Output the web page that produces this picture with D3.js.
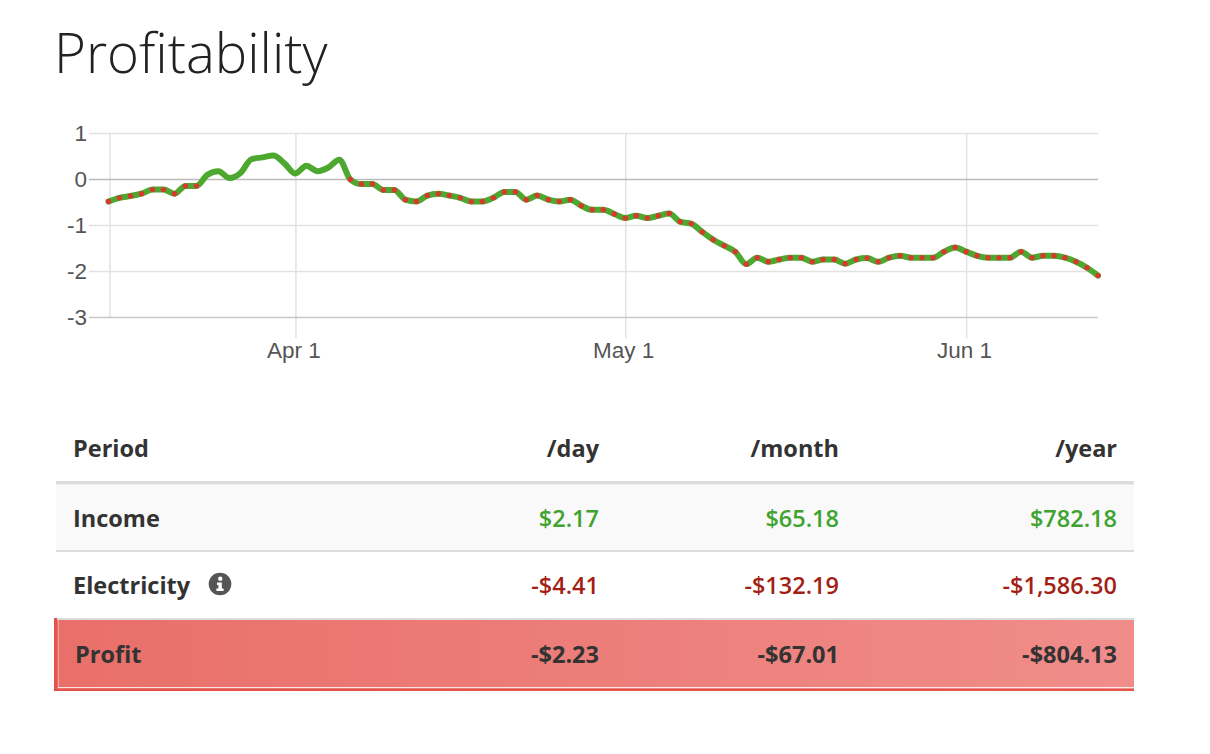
<!DOCTYPE html>
<html>
<head>
<meta charset="utf-8">
<script src="https://cdn.jsdelivr.net/npm/d3@7"></script>
<style>
  body { margin: 0; background: #fff; }
  svg { display: block; }
  .axis text { font-family: "Liberation Sans", Arial, sans-serif; font-size: 22.5px; fill: #555; }
  .axis .domain { display: none; }
</style>
</head>
<body>
<svg id="chart" width="1210" height="754"></svg>
<script>
// daily profit, starting Mar 15
const startDay = "2018-03-15";
const profit = [
  -0.49, -0.41, -0.37, -0.32, -0.23, -0.23, -0.32, -0.15, -0.15,
  0.09, 0.17, 0.02, 0.13, 0.43, 0.47, 0.51, 0.34, 0.12, 0.29, 0.17, 0.25, 0.42,
  -0.01, -0.11, -0.11, -0.24, -0.24, -0.45, -0.49, -0.36, -0.32, -0.36,
  -0.41, -0.49, -0.49, -0.41, -0.28, -0.28, -0.45, -0.36, -0.45, -0.49, -0.45, -0.58, -0.67, -0.67,
  -0.76, -0.85, -0.80, -0.85, -0.80, -0.75, -0.93, -0.97, -1.15, -1.32, -1.45, -1.58, -1.85, -1.71,
  -1.80, -1.75, -1.71, -1.71, -1.80, -1.75, -1.75, -1.84, -1.75,
  -1.72, -1.80, -1.71, -1.67, -1.71, -1.71, -1.71, -1.58, -1.49, -1.58, -1.67, -1.71,
  -1.71, -1.71, -1.58, -1.71, -1.67, -1.67, -1.71, -1.80, -1.93, -2.10
];
const yTicks = [1, 0, -1, -2, -3];
const xTicks = ["2018-04-01", "2018-05-01", "2018-06-01"];

// table
const periods = ["/day", "/month", "/year"];
const rowLabels = ["Income", "Electricity", "Profit"];
const income = ["$2.17", "$65.18", "$782.18"];
const electricity = ["-$4.41", "-$132.19", "-$1,586.30"];
const profitRow = ["-$2.23", "-$67.01", "-$804.13"];

const parse = d3.utcParse("%Y-%m-%d");
const t0 = parse(startDay);
const data = profit.map((v, i) => ({ date: d3.utcDay.offset(t0, i), value: v }));

const svg = d3.select("#chart");

svg.append("text")
  .attr("x", 54)
  .attr("y", 73)
  .attr("font-family", "'Open Sans', sans-serif")
  .attr("font-weight", 300)
  .attr("font-size", 54.5)
  .attr("fill", "#222")
  .text("Profitability");

// plot area
const plotLeft = 108.5, plotRight = 1098, plotTop = 133, plotBottom = 317;

const x = d3.scaleUtc()
  .domain(d3.extent(data, d => d.date))
  .range([plotLeft, plotRight]);

const y = d3.scaleLinear()
  .domain([-3, 1])
  .range([plotBottom, plotTop]);

// vertical grid + month labels
const xAxis = svg.append("g")
  .attr("class", "axis")
  .attr("transform", "translate(0,338)")
  .call(d3.axisBottom(x)
    .tickValues(xTicks.map(parse))
    .tickSize(-(338 - plotTop))
    .tickPadding(4)
    .tickFormat(d3.utcFormat("%b %-d")));

xAxis.selectAll("line")
  .attr("stroke", "#e2e2e2")
  .attr("stroke-width", 1.5);
xAxis.selectAll("text").attr("dx", -2);

// left edge line
svg.append("line")
  .attr("x1", plotLeft + 1.5).attr("x2", plotLeft + 1.5)
  .attr("y1", plotTop).attr("y2", plotBottom)
  .attr("stroke", "#e2e2e2")
  .attr("stroke-width", 1.5);

// horizontal grid + labels
const yAxis = svg.append("g")
  .attr("class", "axis")
  .attr("transform", "translate(89,0)")
  .call(d3.axisLeft(y).tickValues(yTicks).tickSize(-(plotRight - 89)).tickPadding(2).tickFormat(d => String(d)));

yAxis.selectAll("line")
  .attr("stroke", d => d === 0 ? "#bbb" : d === -3 ? "#c8c8c8" : "#e2e2e2")
  .attr("stroke-width", 1.5);

const line = d3.line()
  .x(d => x(d.date))
  .y(d => y(d.value))
  .curve(d3.curveMonotoneX);

svg.append("path")
  .datum(data)
  .attr("d", line)
  .attr("fill", "none")
  .attr("stroke", "#4ca82e")
  .attr("stroke-width", 6)
  .attr("stroke-linejoin", "round")
  .attr("stroke-linecap", "round");

svg.append("g")
  .selectAll("circle")
  .data(data.filter(d => d.value < 0))
  .join("circle")
  .attr("cx", d => x(d.date))
  .attr("cy", d => y(d.value))
  .attr("r", 2.7)
  .attr("fill", "#d8392f");

// ---- table ----
const tLeft = 56, tRight = 1134;
const colRight = [599, 839, 1117];
const font = "'Open Sans', sans-serif";

const defs = svg.append("defs");
const grad = defs.append("linearGradient").attr("id", "profitBg");
grad.append("stop").attr("offset", "0%").attr("stop-color", "#e96f6a");
grad.append("stop").attr("offset", "100%").attr("stop-color", "#f08d8a");

// row backgrounds and borders
svg.append("rect").attr("x", tLeft).attr("y", 484.5).attr("width", tRight - tLeft).attr("height", 65.5).attr("fill", "#f9f9f9");
svg.append("rect").attr("x", tLeft).attr("y", 481).attr("width", tRight - tLeft).attr("height", 3.5).attr("fill", "#dcdcdc");
svg.append("rect").attr("x", tLeft).attr("y", 550).attr("width", tRight - tLeft).attr("height", 2).attr("fill", "#dcdcdc");
svg.append("rect").attr("x", tLeft).attr("y", 618).attr("width", tRight - tLeft).attr("height", 2).attr("fill", "#dcdcdc");
svg.append("rect").attr("x", 57).attr("y", 620).attr("width", tRight - 57).attr("height", 69).attr("fill", "url(#profitBg)");
svg.append("rect").attr("x", 54).attr("y", 618).attr("width", 3).attr("height", 73).attr("fill", "#e5524a");
svg.append("rect").attr("x", 54).attr("y", 689).attr("width", tRight - 54).attr("height", 2).attr("fill", "#e5524a");
svg.append("rect").attr("x", 58).attr("y", 687).attr("width", tRight - 58).attr("height", 1).attr("fill", "#fff").attr("opacity", 0.8);
svg.append("rect").attr("x", 58).attr("y", 620).attr("width", 1).attr("height", 68).attr("fill", "#fff").attr("opacity", 0.35);

function cell(txt, xPos, yPos, anchor, weight, color) {
  svg.append("text")
    .attr("x", xPos)
    .attr("y", yPos)
    .attr("text-anchor", anchor)
    .attr("font-family", font)
    .attr("font-size", 23.5)
    .attr("font-weight", weight)
    .attr("fill", color)
    .text(txt);
}

// header
cell("Period", 73, 457, "start", 700, "#333");
periods.forEach((p, i) => cell(p, colRight[i], 457, "end", 700, "#333"));

const rowBase = [527, 594, 663];
const rowVals = [income, electricity, profitRow];
const rowColor = ["#40a22f", "#a31f15", "#333"];
const rowWeight = [600, 600, 700];

rowLabels.forEach((lab, r) => {
  cell(lab, r === 2 ? 75 : 73, rowBase[r], "start", 700, "#333");
  rowVals[r].forEach((v, i) => cell(v, colRight[i], rowBase[r], "end", rowWeight[r], rowColor[r]));
});

// info icon next to Electricity
const info = svg.append("g").attr("transform", "translate(220,584)");
info.append("circle").attr("r", 11.3).attr("fill", "#555");
info.append("circle").attr("cx", 0.3).attr("cy", -5.2).attr("r", 2.2).attr("fill", "#fff");
info.append("path")
  .attr("d", "M-3,-1.5 H1.8 V4.5 H3.6 V7 H-3.6 V4.5 H-1.6 V1 H-3 Z")
  .attr("fill", "#fff");
</script>
</body>
</html>
